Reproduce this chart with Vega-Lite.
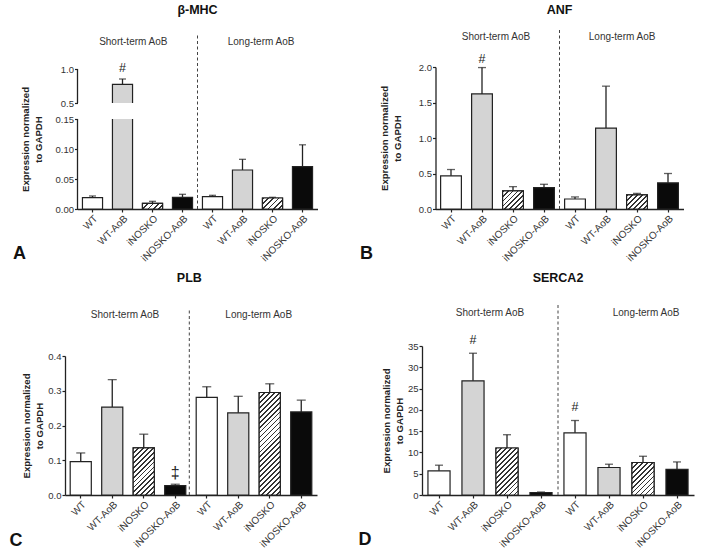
{
"$schema": "https://vega.github.io/schema/vega-lite/v6.json",
"background": "white",
"padding": {"left": 9, "top": 3, "right": 2, "bottom": 2},
"bounds": "flush",
"columns": 2,
"align": "each",
"spacing": {"row": 93, "column": 105},
"config": {
  "view": {"stroke": null},
  "font": "Liberation Sans",
  "axis": {"labelFont": "Liberation Sans", "labelFontSize": 9.5, "labelColor": "#333", "domainColor": "#222", "domainWidth": 1.3, "tickColor": "#222", "tickWidth": 1.2, "tickSize": 3, "labelPadding": 1, "labelOverlap": false, "grid": false, "titleFont": "Liberation Sans", "titleFontSize": 9.6, "titleFontWeight": "bold", "titleColor": "#222", "titleLineHeight": 13},
  "axisX": {"labelAngle": -45, "labelFontSize": 10}
},
"datasets": {
  "mhc": [
    {"key": "WT|S", "geno": "WT", "mean": 0.0188, "upper": 0.0217, "sig": ""},
    {"key": "WT-AoB|S", "geno": "WT-AoB", "mean": 0.775, "upper": 0.853, "sig": "#"},
    {"key": "iNOSKO|S", "geno": "iNOSKO", "mean": 0.0095, "upper": 0.0128, "sig": ""},
    {"key": "iNOSKO-AoB|S", "geno": "iNOSKO-AoB", "mean": 0.0195, "upper": 0.0245, "sig": ""},
    {"key": "WT|L", "geno": "WT", "mean": 0.0205, "upper": 0.0228, "sig": ""},
    {"key": "WT-AoB|L", "geno": "WT-AoB", "mean": 0.065, "upper": 0.0828, "sig": ""},
    {"key": "iNOSKO|L", "geno": "iNOSKO", "mean": 0.0183, "upper": 0.0195, "sig": ""},
    {"key": "iNOSKO-AoB|L", "geno": "iNOSKO-AoB", "mean": 0.0705, "upper": 0.107, "sig": ""}
  ],
  "anf": [
    {"key": "WT|S", "geno": "WT", "mean": 0.467, "upper": 0.556, "sig": ""},
    {"key": "WT-AoB|S", "geno": "WT-AoB", "mean": 1.621, "upper": 1.992, "sig": "#"},
    {"key": "iNOSKO|S", "geno": "iNOSKO", "mean": 0.255, "upper": 0.315, "sig": ""},
    {"key": "iNOSKO-AoB|S", "geno": "iNOSKO-AoB", "mean": 0.301, "upper": 0.348, "sig": ""},
    {"key": "WT|L", "geno": "WT", "mean": 0.141, "upper": 0.17, "sig": ""},
    {"key": "WT-AoB|L", "geno": "WT-AoB", "mean": 1.14, "upper": 1.73, "sig": ""},
    {"key": "iNOSKO|L", "geno": "iNOSKO", "mean": 0.198, "upper": 0.22, "sig": ""},
    {"key": "iNOSKO-AoB|L", "geno": "iNOSKO-AoB", "mean": 0.368, "upper": 0.5, "sig": ""}
  ],
  "plb": [
    {"key": "WT|S", "geno": "WT", "mean": 0.0963, "upper": 0.121, "sig": ""},
    {"key": "WT-AoB|S", "geno": "WT-AoB", "mean": 0.253, "upper": 0.332, "sig": ""},
    {"key": "iNOSKO|S", "geno": "iNOSKO", "mean": 0.1356, "upper": 0.175, "sig": ""},
    {"key": "iNOSKO-AoB|S", "geno": "iNOSKO-AoB", "mean": 0.027, "upper": 0.031, "sig": "‡"},
    {"key": "WT|L", "geno": "WT", "mean": 0.281, "upper": 0.3115, "sig": ""},
    {"key": "WT-AoB|L", "geno": "WT-AoB", "mean": 0.2365, "upper": 0.284, "sig": ""},
    {"key": "iNOSKO|L", "geno": "iNOSKO", "mean": 0.295, "upper": 0.32, "sig": ""},
    {"key": "iNOSKO-AoB|L", "geno": "iNOSKO-AoB", "mean": 0.239, "upper": 0.273, "sig": ""}
  ],
  "serca": [
    {"key": "WT|S", "geno": "WT", "mean": 5.67, "upper": 7.0, "sig": ""},
    {"key": "WT-AoB|S", "geno": "WT-AoB", "mean": 26.83, "upper": 33.3, "sig": "#"},
    {"key": "iNOSKO|S", "geno": "iNOSKO", "mean": 11.04, "upper": 14.16, "sig": ""},
    {"key": "iNOSKO-AoB|S", "geno": "iNOSKO-AoB", "mean": 0.54, "upper": 0.7, "sig": ""},
    {"key": "WT|L", "geno": "WT", "mean": 14.6, "upper": 17.5, "sig": "#"},
    {"key": "WT-AoB|L", "geno": "WT-AoB", "mean": 6.46, "upper": 7.23, "sig": ""},
    {"key": "iNOSKO|L", "geno": "iNOSKO", "mean": 7.63, "upper": 9.1, "sig": ""},
    {"key": "iNOSKO-AoB|L", "geno": "iNOSKO-AoB", "mean": 6.0, "upper": 7.77, "sig": ""}
  ]
},
"concat": [
{
  "width": 252, "height": 179,
  "data": {"name": "mhc"},
  "title": {"text": "A", "orient": "bottom", "anchor": "start", "frame": "group", "dx": -52, "offset": -18, "fontSize": 18, "fontWeight": "bold", "color": "#111", "font": "Liberation Sans"},
  "encoding": {"x": {"field": "key", "type": "nominal", "scale": {"domain": ["WT|S","WT-AoB|S","iNOSKO|S","iNOSKO-AoB|S","WT|L","WT-AoB|L","iNOSKO|L","iNOSKO-AoB|L"], "range": [12.5, 252.5], "paddingInner": 0, "paddingOuter": 0}, "axis": {"title": null, "labelOverlap": false, "labelExpr": "split(datum.label, '|')[0]"}}},
  "layer": [
    {"mark": {"type": "bar", "width": {"band": 0.67}, "stroke": "#222", "strokeWidth": 1.2},
     "encoding": {
       "y": {"field": "mean", "type": "quantitative", "scale": {"domain": [0, 0.15, 0.5, 1], "range": [179, 89, 73, 39], "nice": false, "zero": false}, "axis": {"title": ["Expression normalized", "to GAPDH"], "values": [0, 0.05, 0.1, 0.15, 0.5, 1], "tickCount": 20, "labelOverlap": false, "labelExpr": "datum.value >= 0.5 ? format(datum.value, '.1f') : format(datum.value, '.2f')", "domain": false, "offset": -12.5, "titlePadding": 12}},
       "fill": {"field": "geno", "type": "nominal", "scale": {"domain": ["WT","WT-AoB","iNOSKO","iNOSKO-AoB"], "range": ["#ffffff","#d4d4d4","#ffffff","#0a0a0a"]}, "legend": null}}},
    {"transform": [{"filter": "datum.key == 'iNOSKO|S'"}],
     "mark": {"type": "bar", "width": {"band": 0.67}, "stroke": "#222", "strokeWidth": 1.2, "fill": {"gradient": "linear", "x1": 0, "y1": 0, "x2": 1.188, "y2": 0.337, "stops": [{"offset":0,"color":"#333"},{"offset":0.07,"color":"#333"},{"offset":0.07,"color":"#fff"},{"offset":0.2,"color":"#fff"},{"offset":0.2,"color":"#333"},{"offset":0.27,"color":"#333"},{"offset":0.27,"color":"#fff"},{"offset":0.4,"color":"#fff"},{"offset":0.4,"color":"#333"},{"offset":0.47,"color":"#333"},{"offset":0.47,"color":"#fff"},{"offset":0.6,"color":"#fff"},{"offset":0.6,"color":"#333"},{"offset":0.67,"color":"#333"},{"offset":0.67,"color":"#fff"},{"offset":0.8,"color":"#fff"},{"offset":0.8,"color":"#333"},{"offset":0.87,"color":"#333"},{"offset":0.87,"color":"#fff"},{"offset":1,"color":"#fff"}]}},
     "encoding": {"y": {"field": "mean", "type": "quantitative"}}},
    {"transform": [{"filter": "datum.key == 'iNOSKO|L'"}],
     "mark": {"type": "bar", "width": {"band": 0.67}, "stroke": "#222", "strokeWidth": 1.2, "fill": {"gradient": "linear", "x1": 0, "y1": 0, "x2": 1.191, "y2": 0.652, "stops": [{"offset":0,"color":"#333"},{"offset":0.0583,"color":"#333"},{"offset":0.0583,"color":"#fff"},{"offset":0.1667,"color":"#fff"},{"offset":0.1667,"color":"#333"},{"offset":0.225,"color":"#333"},{"offset":0.225,"color":"#fff"},{"offset":0.3333,"color":"#fff"},{"offset":0.3333,"color":"#333"},{"offset":0.3916,"color":"#333"},{"offset":0.3916,"color":"#fff"},{"offset":0.5,"color":"#fff"},{"offset":0.5,"color":"#333"},{"offset":0.5583,"color":"#333"},{"offset":0.5583,"color":"#fff"},{"offset":0.6667,"color":"#fff"},{"offset":0.6667,"color":"#333"},{"offset":0.725,"color":"#333"},{"offset":0.725,"color":"#fff"},{"offset":0.8333,"color":"#fff"},{"offset":0.8333,"color":"#333"},{"offset":0.8916,"color":"#333"},{"offset":0.8916,"color":"#fff"},{"offset":1,"color":"#fff"}]}},
     "encoding": {"y": {"field": "mean", "type": "quantitative"}}},
    {"data": {"values": [{}]},
     "mark": {"type": "bar", "fill": "white", "width": {"band": 0.9}},
     "encoding": {"x": {"datum": "WT-AoB|S"}, "y": {"datum": 0.15}, "y2": {"datum": 0.5}}},
    {"mark": {"type": "rule", "color": "#222", "strokeWidth": 1.3},
     "encoding": {"y": {"field": "mean", "type": "quantitative"}, "y2": {"field": "upper"}}},
    {"mark": {"type": "tick", "color": "#222", "size": 7, "thickness": 1.3},
     "encoding": {"y": {"field": "upper", "type": "quantitative"}}},
    {"mark": {"type": "text", "baseline": "bottom", "dy": -3.7, "fontSize": 12.5, "color": "#222", "font": "Liberation Sans"},
     "encoding": {"y": {"field": "upper", "type": "quantitative"}, "text": {"field": "sig"}}},
    {"data": {"values": [{}]},
     "mark": {"type": "rule", "color": "#222", "strokeWidth": 1.3},
     "encoding": {"x": {"datum": "WT|S", "bandPosition": 0}, "y": {"datum": 0}, "y2": {"datum": 0.15}}},
    {"data": {"values": [{}]},
     "mark": {"type": "rule", "color": "#222", "strokeWidth": 1.3},
     "encoding": {"x": {"datum": "WT|S", "bandPosition": 0}, "y": {"datum": 0.5}, "y2": {"datum": 1}}},
    {"data": {"values": [{}]},
     "mark": {"type": "rule", "color": "#444", "strokeWidth": 1, "strokeDash": [3, 2.5]},
     "encoding": {"x": {"datum": "WT|L", "bandPosition": 0}, "y": {"datum": 0}, "y2": {"datum": 1.5}}},
    {"data": {"values": [{}]},
     "mark": {"type": "text", "text": "Short-term AoB", "fontSize": 10, "color": "#333", "baseline": "middle", "font": "Liberation Sans"},
     "encoding": {"x": {"datum": "WT-AoB|S", "bandPosition": 0.86}, "y": {"datum": 1.4}}},
    {"data": {"values": [{}]},
     "mark": {"type": "text", "text": "Long-term AoB", "fontSize": 10, "color": "#333", "baseline": "middle", "font": "Liberation Sans"},
     "encoding": {"x": {"datum": "iNOSKO|L", "bandPosition": 0.12}, "y": {"datum": 1.4}}},
    {"data": {"values": [{}]},
     "mark": {"type": "text", "text": "β-MHC", "fontSize": 12.5, "fontWeight": "bold", "color": "#111", "baseline": "middle", "font": "Liberation Sans"},
     "encoding": {"x": {"datum": "WT|L", "bandPosition": 0}, "y": {"datum": 1.872}}}
  ]
},
{
  "width": 262, "height": 179,
  "data": {"name": "anf"},
  "title": {"text": "B", "orient": "bottom", "anchor": "start", "frame": "group", "dx": -62, "offset": -18, "fontSize": 18, "fontWeight": "bold", "color": "#111", "font": "Liberation Sans"},
  "encoding": {"x": {"field": "key", "type": "nominal", "scale": {"domain": ["WT|S","WT-AoB|S","iNOSKO|S","iNOSKO-AoB|S","WT|L","WT-AoB|L","iNOSKO|L","iNOSKO-AoB|L"], "range": [13.5, 261.5], "paddingInner": 0, "paddingOuter": 0}, "axis": {"title": null, "labelOverlap": false, "labelExpr": "split(datum.label, '|')[0]"}}},
  "layer": [
    {"mark": {"type": "bar", "width": {"band": 0.67}, "stroke": "#222", "strokeWidth": 1.2},
     "encoding": {
       "y": {"field": "mean", "type": "quantitative", "scale": {"domain": [0, 2], "range": [179, 37], "nice": false}, "axis": {"title": ["Expression normalized", "to GAPDH"], "values": [0, 0.5, 1, 1.5, 2], "tickCount": 20, "labelOverlap": false, "format": ".1f", "offset": -13.5, "titlePadding": 16}},
       "fill": {"field": "geno", "type": "nominal", "scale": {"domain": ["WT","WT-AoB","iNOSKO","iNOSKO-AoB"], "range": ["#ffffff","#d4d4d4","#ffffff","#0a0a0a"]}, "legend": null}}},
    {"transform": [{"filter": "datum.key == 'iNOSKO|S'"}],
     "mark": {"type": "bar", "width": {"band": 0.67}, "stroke": "#222", "strokeWidth": 1.2, "fill": {"gradient": "linear", "x1": 0, "y1": 0, "x2": 1.064, "y2": 0.927, "stops": [{"offset":0,"color":"#333"},{"offset":0.0438,"color":"#333"},{"offset":0.0438,"color":"#fff"},{"offset":0.125,"color":"#fff"},{"offset":0.125,"color":"#333"},{"offset":0.1688,"color":"#333"},{"offset":0.1688,"color":"#fff"},{"offset":0.25,"color":"#fff"},{"offset":0.25,"color":"#333"},{"offset":0.2938,"color":"#333"},{"offset":0.2938,"color":"#fff"},{"offset":0.375,"color":"#fff"},{"offset":0.375,"color":"#333"},{"offset":0.4188,"color":"#333"},{"offset":0.4188,"color":"#fff"},{"offset":0.5,"color":"#fff"},{"offset":0.5,"color":"#333"},{"offset":0.5438,"color":"#333"},{"offset":0.5438,"color":"#fff"},{"offset":0.625,"color":"#fff"},{"offset":0.625,"color":"#333"},{"offset":0.6688,"color":"#333"},{"offset":0.6688,"color":"#fff"},{"offset":0.75,"color":"#fff"},{"offset":0.75,"color":"#333"},{"offset":0.7938,"color":"#333"},{"offset":0.7938,"color":"#fff"},{"offset":0.875,"color":"#fff"},{"offset":0.875,"color":"#333"},{"offset":0.9188,"color":"#333"},{"offset":0.9188,"color":"#fff"},{"offset":1,"color":"#fff"}]}},
     "encoding": {"y": {"field": "mean", "type": "quantitative"}}},
    {"transform": [{"filter": "datum.key == 'iNOSKO|L'"}],
     "mark": {"type": "bar", "width": {"band": 0.67}, "stroke": "#222", "strokeWidth": 1.2, "fill": {"gradient": "linear", "x1": 0, "y1": 0, "x2": 1.15, "y2": 0.778, "stops": [{"offset":0,"color":"#333"},{"offset":0.05,"color":"#333"},{"offset":0.05,"color":"#fff"},{"offset":0.1429,"color":"#fff"},{"offset":0.1429,"color":"#333"},{"offset":0.1929,"color":"#333"},{"offset":0.1929,"color":"#fff"},{"offset":0.2857,"color":"#fff"},{"offset":0.2857,"color":"#333"},{"offset":0.3357,"color":"#333"},{"offset":0.3357,"color":"#fff"},{"offset":0.4286,"color":"#fff"},{"offset":0.4286,"color":"#333"},{"offset":0.4786,"color":"#333"},{"offset":0.4786,"color":"#fff"},{"offset":0.5714,"color":"#fff"},{"offset":0.5714,"color":"#333"},{"offset":0.6214,"color":"#333"},{"offset":0.6214,"color":"#fff"},{"offset":0.7143,"color":"#fff"},{"offset":0.7143,"color":"#333"},{"offset":0.7643,"color":"#333"},{"offset":0.7643,"color":"#fff"},{"offset":0.8571,"color":"#fff"},{"offset":0.8571,"color":"#333"},{"offset":0.9071,"color":"#333"},{"offset":0.9071,"color":"#fff"},{"offset":1,"color":"#fff"}]}},
     "encoding": {"y": {"field": "mean", "type": "quantitative"}}},
    {"mark": {"type": "rule", "color": "#222", "strokeWidth": 1.3},
     "encoding": {"y": {"field": "mean", "type": "quantitative"}, "y2": {"field": "upper"}}},
    {"mark": {"type": "tick", "color": "#222", "size": 8, "thickness": 1.3},
     "encoding": {"y": {"field": "upper", "type": "quantitative"}}},
    {"mark": {"type": "text", "baseline": "bottom", "dy": -1.5, "fontSize": 12.5, "color": "#222", "font": "Liberation Sans"},
     "encoding": {"y": {"field": "upper", "type": "quantitative"}, "text": {"field": "sig"}}},
    {"data": {"values": [{}]},
     "mark": {"type": "rule", "color": "#444", "strokeWidth": 1, "strokeDash": [3, 2.5]},
     "encoding": {"x": {"datum": "WT|L", "bandPosition": 0}, "y": {"datum": 0}, "y2": {"datum": 2.521}}},
    {"data": {"values": [{}]},
     "mark": {"type": "text", "text": "Short-term AoB", "fontSize": 10, "color": "#333", "baseline": "middle", "font": "Liberation Sans"},
     "encoding": {"x": {"datum": "WT-AoB|S", "bandPosition": 0.95}, "y": {"datum": 2.427}}},
    {"data": {"values": [{}]},
     "mark": {"type": "text", "text": "Long-term AoB", "fontSize": 10, "color": "#333", "baseline": "middle", "font": "Liberation Sans"},
     "encoding": {"x": {"datum": "iNOSKO|L", "bandPosition": 0.02}, "y": {"datum": 2.427}}},
    {"data": {"values": [{}]},
     "mark": {"type": "text", "text": "ANF", "fontSize": 12.5, "fontWeight": "bold", "color": "#111", "baseline": "middle", "font": "Liberation Sans"},
     "encoding": {"x": {"datum": "WT|L", "bandPosition": 0}, "y": {"datum": 2.8}}}
  ]
},
{
  "width": 252, "height": 193,
  "data": {"name": "plb"},
  "title": {"text": "C", "orient": "bottom", "anchor": "start", "frame": "group", "dx": -55.5, "offset": -17, "fontSize": 18, "fontWeight": "bold", "color": "#111", "font": "Liberation Sans"},
  "encoding": {"x": {"field": "key", "type": "nominal", "scale": {"domain": ["WT|S","WT-AoB|S","iNOSKO|S","iNOSKO-AoB|S","WT|L","WT-AoB|L","iNOSKO|L","iNOSKO-AoB|L"], "range": [0, 252], "paddingInner": 0, "paddingOuter": 0}, "axis": {"title": null, "labelOverlap": false, "labelExpr": "split(datum.label, '|')[0]"}}},
  "layer": [
    {"mark": {"type": "bar", "width": {"band": 0.67}, "stroke": "#222", "strokeWidth": 1.2},
     "encoding": {
       "y": {"field": "mean", "type": "quantitative", "scale": {"domain": [0, 0.4], "range": [193, 54], "nice": false}, "axis": {"title": ["Expression normalized", "to GAPDH"], "values": [0, 0.1, 0.2, 0.3, 0.4], "tickCount": 20, "labelOverlap": false, "format": ".1f", "titlePadding": 3}},
       "fill": {"field": "geno", "type": "nominal", "scale": {"domain": ["WT","WT-AoB","iNOSKO","iNOSKO-AoB"], "range": ["#ffffff","#d4d4d4","#ffffff","#0a0a0a"]}, "legend": null}}},
    {"transform": [{"filter": "datum.key == 'iNOSKO|S'"}],
     "mark": {"type": "bar", "width": {"band": 0.67}, "stroke": "#222", "strokeWidth": 1.2, "fill": {"gradient": "linear", "x1": 0, "y1": 0, "x2": 0.54, "y2": 1.206, "stops": [{"offset":0,"color":"#333"},{"offset":0.025,"color":"#333"},{"offset":0.025,"color":"#fff"},{"offset":0.0714,"color":"#fff"},{"offset":0.0714,"color":"#333"},{"offset":0.0964,"color":"#333"},{"offset":0.0964,"color":"#fff"},{"offset":0.1429,"color":"#fff"},{"offset":0.1429,"color":"#333"},{"offset":0.1679,"color":"#333"},{"offset":0.1679,"color":"#fff"},{"offset":0.2143,"color":"#fff"},{"offset":0.2143,"color":"#333"},{"offset":0.2393,"color":"#333"},{"offset":0.2393,"color":"#fff"},{"offset":0.2857,"color":"#fff"},{"offset":0.2857,"color":"#333"},{"offset":0.3107,"color":"#333"},{"offset":0.3107,"color":"#fff"},{"offset":0.3571,"color":"#fff"},{"offset":0.3571,"color":"#333"},{"offset":0.3821,"color":"#333"},{"offset":0.3821,"color":"#fff"},{"offset":0.4286,"color":"#fff"},{"offset":0.4286,"color":"#333"},{"offset":0.4536,"color":"#333"},{"offset":0.4536,"color":"#fff"},{"offset":0.5,"color":"#fff"},{"offset":0.5,"color":"#333"},{"offset":0.525,"color":"#333"},{"offset":0.525,"color":"#fff"},{"offset":0.5714,"color":"#fff"},{"offset":0.5714,"color":"#333"},{"offset":0.5964,"color":"#333"},{"offset":0.5964,"color":"#fff"},{"offset":0.6429,"color":"#fff"},{"offset":0.6429,"color":"#333"},{"offset":0.6679,"color":"#333"},{"offset":0.6679,"color":"#fff"},{"offset":0.7143,"color":"#fff"},{"offset":0.7143,"color":"#333"},{"offset":0.7393,"color":"#333"},{"offset":0.7393,"color":"#fff"},{"offset":0.7857,"color":"#fff"},{"offset":0.7857,"color":"#333"},{"offset":0.8107,"color":"#333"},{"offset":0.8107,"color":"#fff"},{"offset":0.8571,"color":"#fff"},{"offset":0.8571,"color":"#333"},{"offset":0.8821,"color":"#333"},{"offset":0.8821,"color":"#fff"},{"offset":0.9286,"color":"#fff"},{"offset":0.9286,"color":"#333"},{"offset":0.9536,"color":"#333"},{"offset":0.9536,"color":"#fff"},{"offset":1,"color":"#fff"}]}},
     "encoding": {"y": {"field": "mean", "type": "quantitative"}}},
    {"transform": [{"filter": "datum.key == 'iNOSKO|L'"}],
     "mark": {"type": "bar", "width": {"band": 0.67}, "stroke": "#222", "strokeWidth": 1.2, "fill": {"gradient": "linear", "x1": 0, "y1": 0, "x2": 0.238, "y2": 1.157, "stops": [{"offset":0,"color":"#333"},{"offset":0.014,"color":"#333"},{"offset":0.014,"color":"#fff"},{"offset":0.04,"color":"#fff"},{"offset":0.04,"color":"#333"},{"offset":0.054,"color":"#333"},{"offset":0.054,"color":"#fff"},{"offset":0.08,"color":"#fff"},{"offset":0.08,"color":"#333"},{"offset":0.094,"color":"#333"},{"offset":0.094,"color":"#fff"},{"offset":0.12,"color":"#fff"},{"offset":0.12,"color":"#333"},{"offset":0.134,"color":"#333"},{"offset":0.134,"color":"#fff"},{"offset":0.16,"color":"#fff"},{"offset":0.16,"color":"#333"},{"offset":0.174,"color":"#333"},{"offset":0.174,"color":"#fff"},{"offset":0.2,"color":"#fff"},{"offset":0.2,"color":"#333"},{"offset":0.214,"color":"#333"},{"offset":0.214,"color":"#fff"},{"offset":0.24,"color":"#fff"},{"offset":0.24,"color":"#333"},{"offset":0.254,"color":"#333"},{"offset":0.254,"color":"#fff"},{"offset":0.28,"color":"#fff"},{"offset":0.28,"color":"#333"},{"offset":0.294,"color":"#333"},{"offset":0.294,"color":"#fff"},{"offset":0.32,"color":"#fff"},{"offset":0.32,"color":"#333"},{"offset":0.334,"color":"#333"},{"offset":0.334,"color":"#fff"},{"offset":0.36,"color":"#fff"},{"offset":0.36,"color":"#333"},{"offset":0.374,"color":"#333"},{"offset":0.374,"color":"#fff"},{"offset":0.4,"color":"#fff"},{"offset":0.4,"color":"#333"},{"offset":0.414,"color":"#333"},{"offset":0.414,"color":"#fff"},{"offset":0.44,"color":"#fff"},{"offset":0.44,"color":"#333"},{"offset":0.454,"color":"#333"},{"offset":0.454,"color":"#fff"},{"offset":0.48,"color":"#fff"},{"offset":0.48,"color":"#333"},{"offset":0.494,"color":"#333"},{"offset":0.494,"color":"#fff"},{"offset":0.52,"color":"#fff"},{"offset":0.52,"color":"#333"},{"offset":0.534,"color":"#333"},{"offset":0.534,"color":"#fff"},{"offset":0.56,"color":"#fff"},{"offset":0.56,"color":"#333"},{"offset":0.574,"color":"#333"},{"offset":0.574,"color":"#fff"},{"offset":0.6,"color":"#fff"},{"offset":0.6,"color":"#333"},{"offset":0.614,"color":"#333"},{"offset":0.614,"color":"#fff"},{"offset":0.64,"color":"#fff"},{"offset":0.64,"color":"#333"},{"offset":0.654,"color":"#333"},{"offset":0.654,"color":"#fff"},{"offset":0.68,"color":"#fff"},{"offset":0.68,"color":"#333"},{"offset":0.694,"color":"#333"},{"offset":0.694,"color":"#fff"},{"offset":0.72,"color":"#fff"},{"offset":0.72,"color":"#333"},{"offset":0.734,"color":"#333"},{"offset":0.734,"color":"#fff"},{"offset":0.76,"color":"#fff"},{"offset":0.76,"color":"#333"},{"offset":0.774,"color":"#333"},{"offset":0.774,"color":"#fff"},{"offset":0.8,"color":"#fff"},{"offset":0.8,"color":"#333"},{"offset":0.814,"color":"#333"},{"offset":0.814,"color":"#fff"},{"offset":0.84,"color":"#fff"},{"offset":0.84,"color":"#333"},{"offset":0.854,"color":"#333"},{"offset":0.854,"color":"#fff"},{"offset":0.88,"color":"#fff"},{"offset":0.88,"color":"#333"},{"offset":0.894,"color":"#333"},{"offset":0.894,"color":"#fff"},{"offset":0.92,"color":"#fff"},{"offset":0.92,"color":"#333"},{"offset":0.934,"color":"#333"},{"offset":0.934,"color":"#fff"},{"offset":0.96,"color":"#fff"},{"offset":0.96,"color":"#333"},{"offset":0.974,"color":"#333"},{"offset":0.974,"color":"#fff"},{"offset":1,"color":"#fff"}]}},
     "encoding": {"y": {"field": "mean", "type": "quantitative"}}},
    {"mark": {"type": "rule", "color": "#222", "strokeWidth": 1.3},
     "encoding": {"y": {"field": "mean", "type": "quantitative"}, "y2": {"field": "upper"}}},
    {"mark": {"type": "tick", "color": "#222", "size": 9, "thickness": 1.3},
     "encoding": {"y": {"field": "upper", "type": "quantitative"}}},
    {"mark": {"type": "text", "baseline": "bottom", "dy": -3, "fontSize": 16, "color": "#222", "font": "Liberation Sans"},
     "encoding": {"y": {"field": "upper", "type": "quantitative"}, "text": {"field": "sig"}}},
    {"data": {"values": [{}]},
     "mark": {"type": "rule", "color": "#444", "strokeWidth": 1, "strokeDash": [3, 2.5]},
     "encoding": {"x": {"datum": "iNOSKO-AoB|S", "bandPosition": 0.946}, "y": {"datum": 0}, "y2": {"datum": 0.5324}}},
    {"data": {"values": [{}]},
     "mark": {"type": "text", "text": "Short-term AoB", "fontSize": 10, "color": "#333", "baseline": "middle", "font": "Liberation Sans"},
     "encoding": {"x": {"datum": "WT-AoB|S", "bandPosition": 0.905}, "y": {"datum": 0.518}}},
    {"data": {"values": [{}]},
     "mark": {"type": "text", "text": "Long-term AoB", "fontSize": 10, "color": "#333", "baseline": "middle", "font": "Liberation Sans"},
     "encoding": {"x": {"datum": "iNOSKO|L", "bandPosition": 0.15}, "y": {"datum": 0.518}}},
    {"data": {"values": [{}]},
     "mark": {"type": "text", "text": "PLB", "fontSize": 12.5, "fontWeight": "bold", "color": "#111", "baseline": "middle", "font": "Liberation Sans"},
     "encoding": {"x": {"datum": "iNOSKO-AoB|S", "bandPosition": 0.946}, "y": {"datum": 0.6245}}}
  ]
},
{
  "width": 272, "height": 193,
  "data": {"name": "serca"},
  "title": {"text": "D", "orient": "bottom", "anchor": "start", "frame": "group", "dx": -63.5, "offset": -18, "fontSize": 18, "fontWeight": "bold", "color": "#111", "font": "Liberation Sans"},
  "encoding": {"x": {"field": "key", "type": "nominal", "scale": {"domain": ["WT|S","WT-AoB|S","iNOSKO|S","iNOSKO-AoB|S","WT|L","WT-AoB|L","iNOSKO|L","iNOSKO-AoB|L"], "range": [0, 272], "paddingInner": 0, "paddingOuter": 0}, "axis": {"title": null, "labelOverlap": false, "labelExpr": "split(datum.label, '|')[0]"}}},
  "layer": [
    {"mark": {"type": "bar", "width": {"band": 0.65}, "stroke": "#222", "strokeWidth": 1.2},
     "encoding": {
       "y": {"field": "mean", "type": "quantitative", "scale": {"domain": [0, 35], "range": [193, 44], "nice": false}, "axis": {"title": ["Expression normalized", "to GAPDH"], "values": [0, 5, 10, 15, 20, 25, 30, 35], "tickCount": 20, "labelOverlap": false, "titlePadding": 3}},
       "fill": {"field": "geno", "type": "nominal", "scale": {"domain": ["WT","WT-AoB","iNOSKO","iNOSKO-AoB"], "range": ["#ffffff","#d4d4d4","#ffffff","#0a0a0a"]}, "legend": null}}},
    {"transform": [{"filter": "datum.key == 'iNOSKO|S'"}],
     "mark": {"type": "bar", "width": {"band": 0.65}, "stroke": "#222", "strokeWidth": 1.2, "fill": {"gradient": "linear", "x1": 0, "y1": 0, "x2": 0.566, "y2": 1.204, "stops": [{"offset":0,"color":"#333"},{"offset":0.025,"color":"#333"},{"offset":0.025,"color":"#fff"},{"offset":0.0714,"color":"#fff"},{"offset":0.0714,"color":"#333"},{"offset":0.0964,"color":"#333"},{"offset":0.0964,"color":"#fff"},{"offset":0.1429,"color":"#fff"},{"offset":0.1429,"color":"#333"},{"offset":0.1679,"color":"#333"},{"offset":0.1679,"color":"#fff"},{"offset":0.2143,"color":"#fff"},{"offset":0.2143,"color":"#333"},{"offset":0.2393,"color":"#333"},{"offset":0.2393,"color":"#fff"},{"offset":0.2857,"color":"#fff"},{"offset":0.2857,"color":"#333"},{"offset":0.3107,"color":"#333"},{"offset":0.3107,"color":"#fff"},{"offset":0.3571,"color":"#fff"},{"offset":0.3571,"color":"#333"},{"offset":0.3821,"color":"#333"},{"offset":0.3821,"color":"#fff"},{"offset":0.4286,"color":"#fff"},{"offset":0.4286,"color":"#333"},{"offset":0.4536,"color":"#333"},{"offset":0.4536,"color":"#fff"},{"offset":0.5,"color":"#fff"},{"offset":0.5,"color":"#333"},{"offset":0.525,"color":"#333"},{"offset":0.525,"color":"#fff"},{"offset":0.5714,"color":"#fff"},{"offset":0.5714,"color":"#333"},{"offset":0.5964,"color":"#333"},{"offset":0.5964,"color":"#fff"},{"offset":0.6429,"color":"#fff"},{"offset":0.6429,"color":"#333"},{"offset":0.6679,"color":"#333"},{"offset":0.6679,"color":"#fff"},{"offset":0.7143,"color":"#fff"},{"offset":0.7143,"color":"#333"},{"offset":0.7393,"color":"#333"},{"offset":0.7393,"color":"#fff"},{"offset":0.7857,"color":"#fff"},{"offset":0.7857,"color":"#333"},{"offset":0.8107,"color":"#333"},{"offset":0.8107,"color":"#fff"},{"offset":0.8571,"color":"#fff"},{"offset":0.8571,"color":"#333"},{"offset":0.8821,"color":"#333"},{"offset":0.8821,"color":"#fff"},{"offset":0.9286,"color":"#fff"},{"offset":0.9286,"color":"#333"},{"offset":0.9536,"color":"#333"},{"offset":0.9536,"color":"#fff"},{"offset":1,"color":"#fff"}]}},
     "encoding": {"y": {"field": "mean", "type": "quantitative"}}},
    {"transform": [{"filter": "datum.key == 'iNOSKO|L'"}],
     "mark": {"type": "bar", "width": {"band": 0.65}, "stroke": "#222", "strokeWidth": 1.2, "fill": {"gradient": "linear", "x1": 0, "y1": 0, "x2": 0.781, "y2": 1.149, "stops": [{"offset":0,"color":"#333"},{"offset":0.0318,"color":"#333"},{"offset":0.0318,"color":"#fff"},{"offset":0.0909,"color":"#fff"},{"offset":0.0909,"color":"#333"},{"offset":0.1227,"color":"#333"},{"offset":0.1227,"color":"#fff"},{"offset":0.1818,"color":"#fff"},{"offset":0.1818,"color":"#333"},{"offset":0.2136,"color":"#333"},{"offset":0.2136,"color":"#fff"},{"offset":0.2727,"color":"#fff"},{"offset":0.2727,"color":"#333"},{"offset":0.3045,"color":"#333"},{"offset":0.3045,"color":"#fff"},{"offset":0.3636,"color":"#fff"},{"offset":0.3636,"color":"#333"},{"offset":0.3954,"color":"#333"},{"offset":0.3954,"color":"#fff"},{"offset":0.4545,"color":"#fff"},{"offset":0.4545,"color":"#333"},{"offset":0.4863,"color":"#333"},{"offset":0.4863,"color":"#fff"},{"offset":0.5455,"color":"#fff"},{"offset":0.5455,"color":"#333"},{"offset":0.5773,"color":"#333"},{"offset":0.5773,"color":"#fff"},{"offset":0.6364,"color":"#fff"},{"offset":0.6364,"color":"#333"},{"offset":0.6682,"color":"#333"},{"offset":0.6682,"color":"#fff"},{"offset":0.7273,"color":"#fff"},{"offset":0.7273,"color":"#333"},{"offset":0.7591,"color":"#333"},{"offset":0.7591,"color":"#fff"},{"offset":0.8182,"color":"#fff"},{"offset":0.8182,"color":"#333"},{"offset":0.85,"color":"#333"},{"offset":0.85,"color":"#fff"},{"offset":0.9091,"color":"#fff"},{"offset":0.9091,"color":"#333"},{"offset":0.9409,"color":"#333"},{"offset":0.9409,"color":"#fff"},{"offset":1,"color":"#fff"}]}},
     "encoding": {"y": {"field": "mean", "type": "quantitative"}}},
    {"mark": {"type": "rule", "color": "#222", "strokeWidth": 1.3},
     "encoding": {"y": {"field": "mean", "type": "quantitative"}, "y2": {"field": "upper"}}},
    {"mark": {"type": "tick", "color": "#222", "size": 8, "thickness": 1.3},
     "encoding": {"y": {"field": "upper", "type": "quantitative"}}},
    {"mark": {"type": "text", "baseline": "bottom", "dy": -6.4, "fontSize": 12.5, "color": "#222", "font": "Liberation Sans"},
     "encoding": {"y": {"field": "upper", "type": "quantitative"}, "text": {"field": "sig"}}},
    {"data": {"values": [{}]},
     "mark": {"type": "rule", "color": "#444", "strokeWidth": 1, "strokeDash": [3, 2.5]},
     "encoding": {"x": {"datum": "WT|L", "bandPosition": 0}, "y": {"datum": 0}, "y2": {"datum": 45.17}}},
    {"data": {"values": [{}]},
     "mark": {"type": "text", "text": "Short-term AoB", "fontSize": 10, "color": "#333", "baseline": "middle", "font": "Liberation Sans"},
     "encoding": {"x": {"datum": "iNOSKO|S", "bandPosition": 0}, "y": {"datum": 42.68}}},
    {"data": {"values": [{}]},
     "mark": {"type": "text", "text": "Long-term AoB", "fontSize": 10, "color": "#333", "baseline": "middle", "font": "Liberation Sans"},
     "encoding": {"x": {"datum": "iNOSKO|L", "bandPosition": 0.59}, "y": {"datum": 42.68}}},
    {"data": {"values": [{}]},
     "mark": {"type": "text", "text": "SERCA2", "fontSize": 12.5, "fontWeight": "bold", "color": "#111", "baseline": "middle", "font": "Liberation Sans"},
     "encoding": {"x": {"datum": "WT|L", "bandPosition": 0}, "y": {"datum": 50.97}}}
  ]
}
]
}
